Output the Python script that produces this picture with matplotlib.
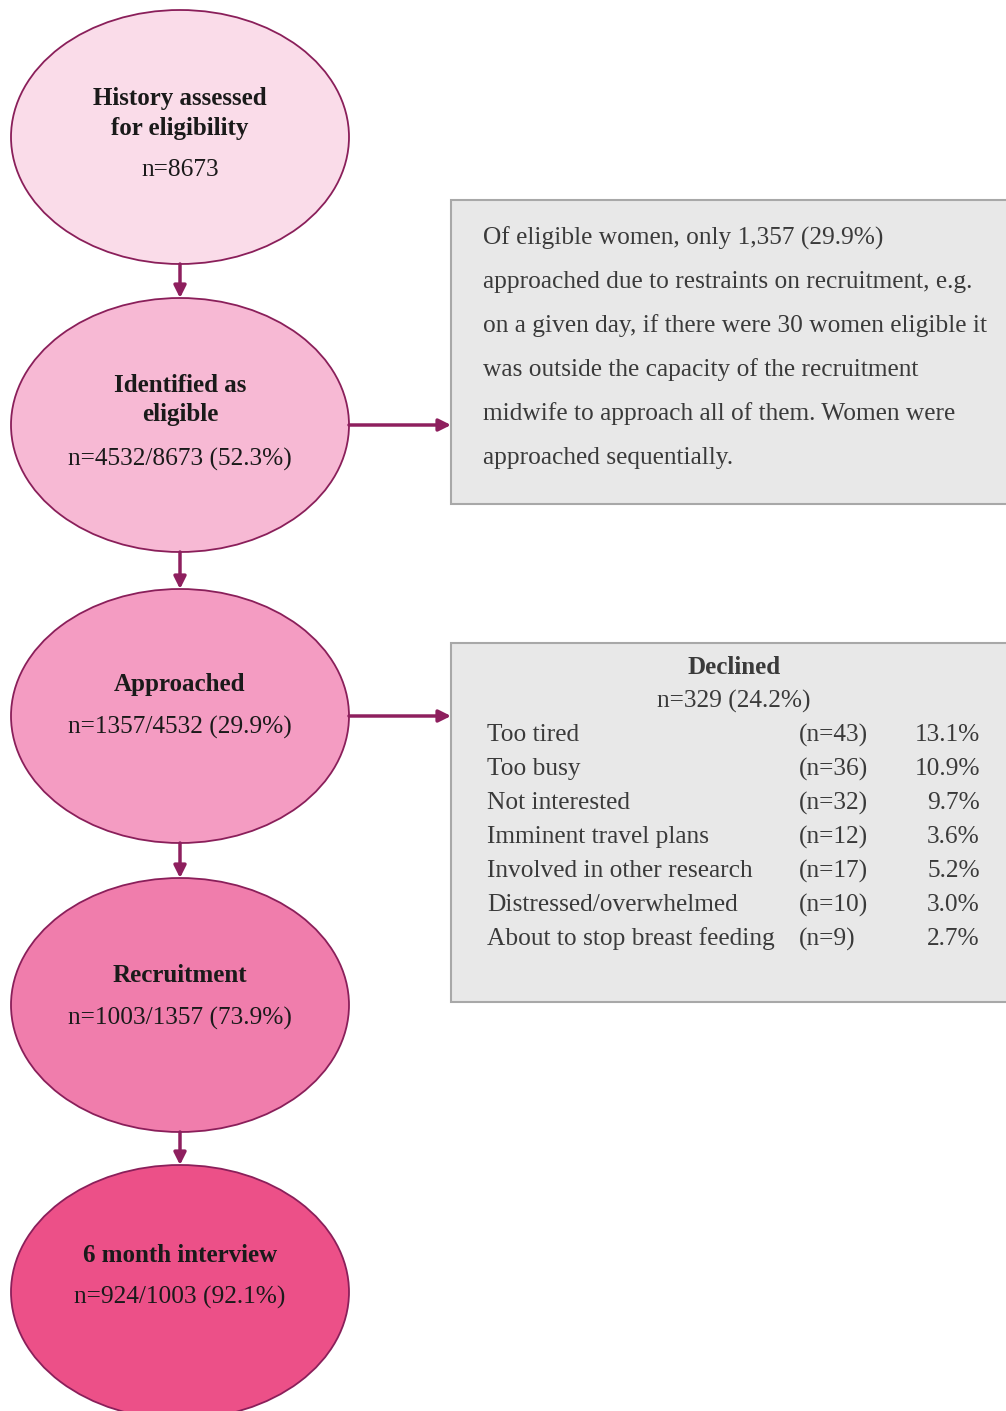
import matplotlib.pyplot as plt
from matplotlib.patches import Ellipse, Rectangle

plt.rcParams['font.family'] = ['Liberation Serif', 'DejaVu Serif']

# stages of the flow
stages = ['History assessed\nfor eligibility', 'Identified as\neligible', 'Approached',
          'Recruitment', '6 month interview']
counts = [8673, 4532, 1357, 1003, 924]
fills = ['#FADCE9', '#F7B9D4', '#F49CC2', '#F07DAC', '#EC5088']

note_lines = ['Of eligible women, only 1,357 (29.9%)',
              'approached due to restraints on recruitment, e.g.',
              'on a given day, if there were 30 women eligible it',
              'was outside the capacity of the recruitment',
              'midwife to approach all of them. Women were',
              'approached sequentially.']

declined_n = 329
reasons = ['Too tired', 'Too busy', 'Not interested', 'Imminent travel plans',
           'Involved in other research', 'Distressed/overwhelmed',
           'About to stop breast feeding']
reason_n = [43, 36, 32, 12, 17, 10, 9]
reason_pct = [13.1, 10.9, 9.7, 3.6, 5.2, 3.0, 2.7]

W, H = 1006, 1411
fig = plt.figure(figsize=(W / 100, H / 100), dpi=100)
ax = fig.add_axes([0, 0, 1, 1])
ax.set_xlim(0, W)
ax.set_ylim(H, 0)
ax.axis('off')

edge = '#8A1F5A'
arrow_col = '#8E1F5E'
cx, ew, eh = 180, 338, 254
cys = [137, 425, 716, 1005, 1292]
# y of first title line and of the count line, relative to the ellipse centre
title_dy = [-38, -39, -31, -30, -37]
count_dy = [33, 34, 11, 13, 5]
BIG, SMALL = 18, 18.3
dark = '#1a1a1a'


def arrow(x0, y0, x1, y1):
    ax.annotate('', xy=(x1, y1), xytext=(x0, y0),
                arrowprops=dict(arrowstyle='-|>', color=arrow_col, lw=2.5,
                                mutation_scale=18, shrinkA=0, shrinkB=0))


for i, (lab, c, fc, cy) in enumerate(zip(stages, counts, fills, cys)):
    ax.add_patch(Ellipse((cx, cy), ew, eh, facecolor=fc, edgecolor=edge, lw=1.3, zorder=2))
    if i == 0:
        ntxt = 'n={}'.format(c)
    else:
        ntxt = 'n={}/{} ({:.1f}%)'.format(c, counts[i - 1], 100 * c / counts[i - 1])
    for j, part in enumerate(lab.split('\n')):
        ax.text(cx, cy + title_dy[i] + 29 * j, part, ha='center', va='center',
                fontsize=BIG, fontweight='bold', color=dark, zorder=3)
    ax.text(cx, cy + count_dy[i], ntxt, ha='center', va='center', fontsize=SMALL,
            color=dark, zorder=3)
    if i < len(stages) - 1:
        arrow(cx, cy + eh / 2, cx, cys[i + 1] - eh / 2)

# side boxes
box_fc, box_ec, txt_c = '#E8E8E8', '#A8A8A8', '#3a3a3a'
ax.add_patch(Rectangle((451, 200), 570, 304, facecolor=box_fc, edgecolor=box_ec, lw=1.5, zorder=1))
ax.add_patch(Rectangle((451, 643), 570, 359, facecolor=box_fc, edgecolor=box_ec, lw=1.5, zorder=1))

arrow(cx + ew / 2, cys[1], 451, cys[1])
arrow(cx + ew / 2, cys[2], 451, cys[2])

for k, line in enumerate(note_lines):
    ax.text(483, 238 + 44 * k, line, ha='left', va='center', fontsize=SMALL, color=txt_c)

ax.text(734, 667, 'Declined', ha='center', va='center', fontsize=BIG, fontweight='bold', color=txt_c)
ax.text(734, 701, 'n={} ({:.1f}%)'.format(declined_n, 100 * declined_n / counts[2]),
        ha='center', va='center', fontsize=SMALL, color=txt_c)
for k, (r, n, p) in enumerate(zip(reasons, reason_n, reason_pct)):
    y = 735 + 34 * k
    ax.text(487, y, r, ha='left', va='center', fontsize=SMALL, color=txt_c)
    ax.text(799, y, '(n={})'.format(n), ha='left', va='center', fontsize=SMALL, color=txt_c)
    ax.text(980, y, '{:.1f}%'.format(p), ha='right', va='center', fontsize=SMALL, color=txt_c)

fig.savefig('out.png', dpi=100, facecolor='white')
